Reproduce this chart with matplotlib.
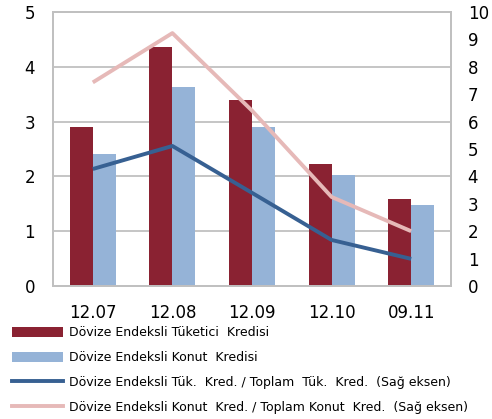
import matplotlib
matplotlib.use("Agg")
import matplotlib.pyplot as plt
import numpy as np
from matplotlib.patches import Patch
from matplotlib.lines import Line2D

categories = ["12.07", "12.08", "12.09", "12.10", "09.11"]
tuketici = [2.91, 4.37, 3.39, 2.22, 1.59]
konut = [2.40, 3.64, 2.91, 2.03, 1.48]
tuk_oran = [4.27, 5.11, 3.40, 1.68, 0.99]
konut_oran = [7.43, 9.23, 6.40, 3.25, 2.00]

labels = [
    "Dövize Endeksli Tüketici  Kredisi",
    "Dövize Endeksli Konut  Kredisi",
    "Dövize Endeksli Tük.  Kred. / Toplam  Tük.  Kred.  (Sağ eksen)",
    "Dövize Endeksli Konut  Kred. / Toplam Konut  Kred.  (Sağ eksen)",
]

c_maroon = "#8A2232"
c_lblue = "#95B3D7"
c_dblue = "#376092"
c_pink = "#E6B9B8"
c_grid = "#C0C0C0"

plt.rcParams["font.family"] = ["DejaVu Sans"]

fig = plt.figure(figsize=(4.92, 4.19), dpi=100)
ax = fig.add_axes([53 / 492, 1 - 286 / 419, 398 / 492, 274 / 419])
ax2 = ax.twinx()

x = np.arange(len(categories))
w = 0.29
ax.bar(x - w / 2, tuketici, width=w, color=c_maroon, zorder=2)
ax.bar(x + w / 2, konut, width=w, color=c_lblue, zorder=2)

ax2.plot(x, konut_oran, color=c_pink, lw=2.8, solid_capstyle="butt", zorder=3)
ax2.plot(x, tuk_oran, color=c_dblue, lw=2.8, solid_capstyle="butt", zorder=3)

ax.set_xlim(-0.5, len(categories) - 0.5)
ax.set_ylim(0, 5)
ax2.set_ylim(0, 10)
ax.set_yticks(range(0, 6))
ax2.set_yticks(range(0, 11))
ax.set_xticks(x)
ax.set_xticklabels(categories)
ax.yaxis.grid(True, color=c_grid, lw=1.3, zorder=0)
ax.set_axisbelow(True)

for a in (ax, ax2):
    for s in a.spines.values():
        s.set_color(c_grid)
        s.set_linewidth(1.3)
    a.tick_params(length=0, labelsize=12, colors="#000000")
ax.tick_params(axis="y", pad=13)
ax.tick_params(axis="x", pad=13)
ax2.tick_params(axis="y", pad=12)

handles = [
    Patch(facecolor=c_maroon, edgecolor="none"),
    Patch(facecolor=c_lblue, edgecolor="none"),
    Line2D([0], [0], color=c_dblue, lw=2.8),
    Line2D([0], [0], color=c_pink, lw=2.8),
]
fig.legend(handles, labels, loc="upper left", bbox_to_anchor=(12 / 492, 1 - 326 / 419),
           frameon=False, fontsize=9, handlelength=4.1, handleheight=0.85,
           handletextpad=0.45, labelspacing=0.95, borderaxespad=0, borderpad=0)

fig.savefig("out.png", dpi=100)
